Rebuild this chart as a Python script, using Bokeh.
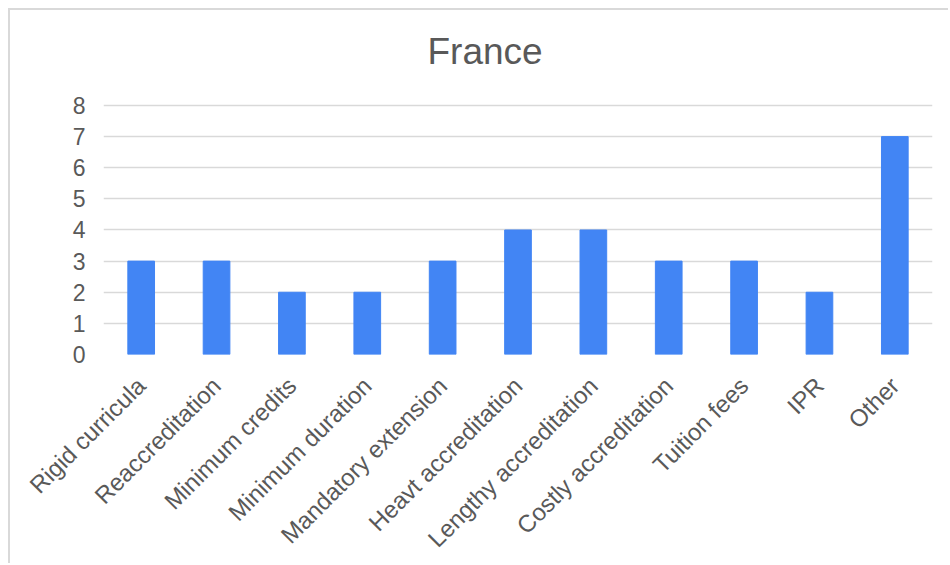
import math
from bokeh.plotting import figure
from bokeh.models import ColumnDataSource, FixedTicker, Range1d
from bokeh.embed import file_html
from bokeh.resources import INLINE

categories = ["Rigid curricula", "Reaccreditation", "Minimum credits", "Minimum duration",
              "Mandatory extension", "Heavt accreditation", "Lengthy accreditation",
              "Costly accreditation", "Tuition fees", "IPR", "Other"]
counts = [3, 3, 2, 2, 3, 4, 4, 3, 3, 2, 7]
y_ticks = [0, 1, 2, 3, 4, 5, 6, 7, 8]
chart_title = "France"

FONT = "Liberation Sans"
TXT = "#595959"

source = ColumnDataSource(data=dict(cat=categories, val=counts))

p = figure(x_range=categories, y_range=Range1d(0, 8.514), width=940, height=555,
           output_backend="svg", toolbar_location=None, title=chart_title,
           min_border_left=93, min_border_right=18, min_border_top=79,
           min_border_bottom=211)

p.vbar(x="cat", top="val", width=0.354, source=source,
       fill_color="#4285f4", line_color="#4285f4")

p.title.text_font = FONT
p.title.text_font_size = "37px"
p.title.text_font_style = "normal"
p.title.text_color = TXT
p.title.align = "left"
p.title.offset = 324
p.title.standoff = 35

p.xgrid.visible = False
p.ygrid.grid_line_color = "#d9d9d9"
p.ygrid.grid_line_width = 1.5
p.outline_line_color = None

p.yaxis.ticker = FixedTicker(ticks=y_ticks)
for ax in (p.xaxis[0], p.yaxis[0]):
    ax.axis_line_color = None
    ax.major_tick_line_color = None
    ax.minor_tick_line_color = None
    ax.major_label_text_font = FONT
    ax.major_label_text_color = TXT
    ax.major_label_text_font_size = "23px"

p.yaxis.major_label_standoff = 12
p.xaxis.major_label_orientation = math.pi / 4
p.xaxis.major_label_standoff = 21
p.xaxis.major_label_text_font_size = "24px"

p.styles = {"border-top": "2px solid #d9d9d9", "border-left": "2px solid #d9d9d9",
            "margin-left": "8px", "margin-top": "8px"}

open("out.html", "w").write(file_html(p, INLINE))
